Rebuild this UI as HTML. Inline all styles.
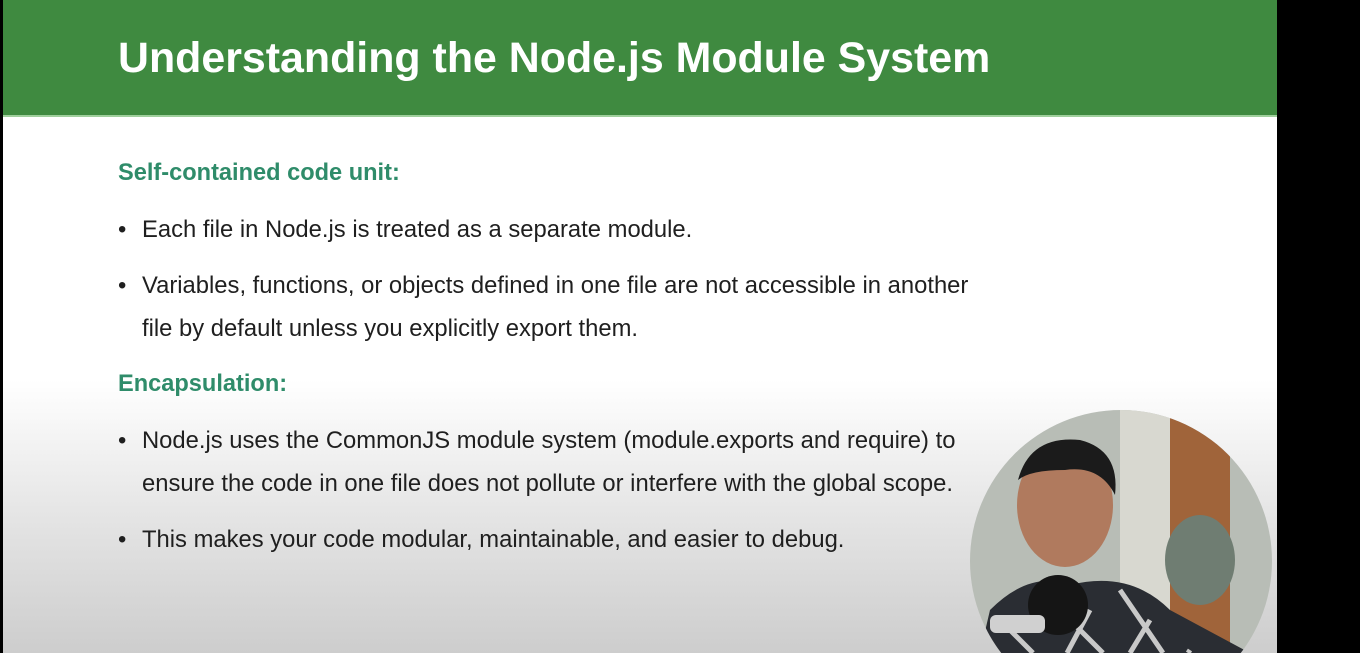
<!DOCTYPE html>
<html><head><meta charset="utf-8"><style>
*{margin:0;padding:0;box-sizing:border-box}
html,body{width:1360px;height:653px;overflow:hidden}
body{background:#000;position:relative;font-family:"Liberation Sans",sans-serif}
#slide{position:absolute;left:3px;top:0;width:1274px;height:653px;overflow:hidden;background:linear-gradient(#fff 0,#fff 380px,#e4e4e4 520px,#cdcdcd 653px)}
#header{position:absolute;left:0;top:0;width:1274px;height:117px;background:#3f8a40;border-bottom:2px solid #9fcf9c}
#title{position:absolute;left:115px;top:34px;color:#fff;font-weight:bold;font-size:42.9px}
.sub{position:absolute;left:115px;color:#2f8c6a;font-weight:bold;font-size:23.6px}
.b{position:absolute;left:115px;color:#1f1f1f;font-size:23.8px;line-height:43px;white-space:nowrap}
.b span.dot{position:absolute;left:0}
.b div{margin-left:24px}
#cam{position:absolute;left:967px;top:410px;width:302px;height:243px;display:block}
</style></head><body>
<div id="slide">
<div id="header"><div id="title">Understanding the Node.js Module System</div></div>
<div class="sub" style="top:160px">Self-contained code unit:</div>
<div class="b" style="top:208px"><span class="dot">•</span><div>Each file in Node.js is treated as a separate module.</div></div>
<div class="b" style="top:264px"><span class="dot">•</span><div>Variables, functions, or objects defined in one file are not accessible in another<br>file by default unless you explicitly export them.</div></div>
<div class="sub" style="top:371px">Encapsulation:</div>
<div class="b" style="top:419px"><span class="dot">•</span><div>Node.js uses the CommonJS module system (module.exports and require) to<br>ensure the code in one file does not pollute or interfere with the global scope.</div></div>
<div class="b" style="top:518px"><span class="dot">•</span><div>This makes your code modular, maintainable, and easier to debug.</div></div>
<svg id="cam" width="302" height="243" viewBox="0 0 302 243">
<defs><clipPath id="cc"><circle cx="151" cy="151" r="151"/></clipPath></defs>
<g clip-path="url(#cc)">
<rect x="0" y="0" width="302" height="243" fill="#b8bdb6"/>
<rect x="200" y="0" width="60" height="240" fill="#a0643a"/>
<rect x="150" y="0" width="50" height="200" fill="#d8d8d0"/>
<ellipse cx="230" cy="150" rx="35" ry="45" fill="#6f7d72"/>
<ellipse cx="95" cy="95" rx="48" ry="62" fill="#b07a5e"/>
<path d="M48 70 Q60 25 110 30 Q150 40 145 85 Q130 55 95 60 Q60 60 48 70Z" fill="#1b1b1b"/>
<path d="M10 243 L20 200 Q60 160 100 175 Q160 160 200 200 L280 243Z" fill="#2a2d33"/>
<path d="M40 220 L63 243 M80 190 L133 243 M150 180 L193 243 M120 200 L97 243 M180 210 L160 243 M220 240 L218 243" stroke="#c9c9c9" stroke-width="5"/>
<circle cx="88" cy="195" r="30" fill="#151515"/>
<rect x="20" y="205" width="55" height="18" fill="#d0d0d0" rx="6"/>
</g>
</svg>
</div>
</body></html>
